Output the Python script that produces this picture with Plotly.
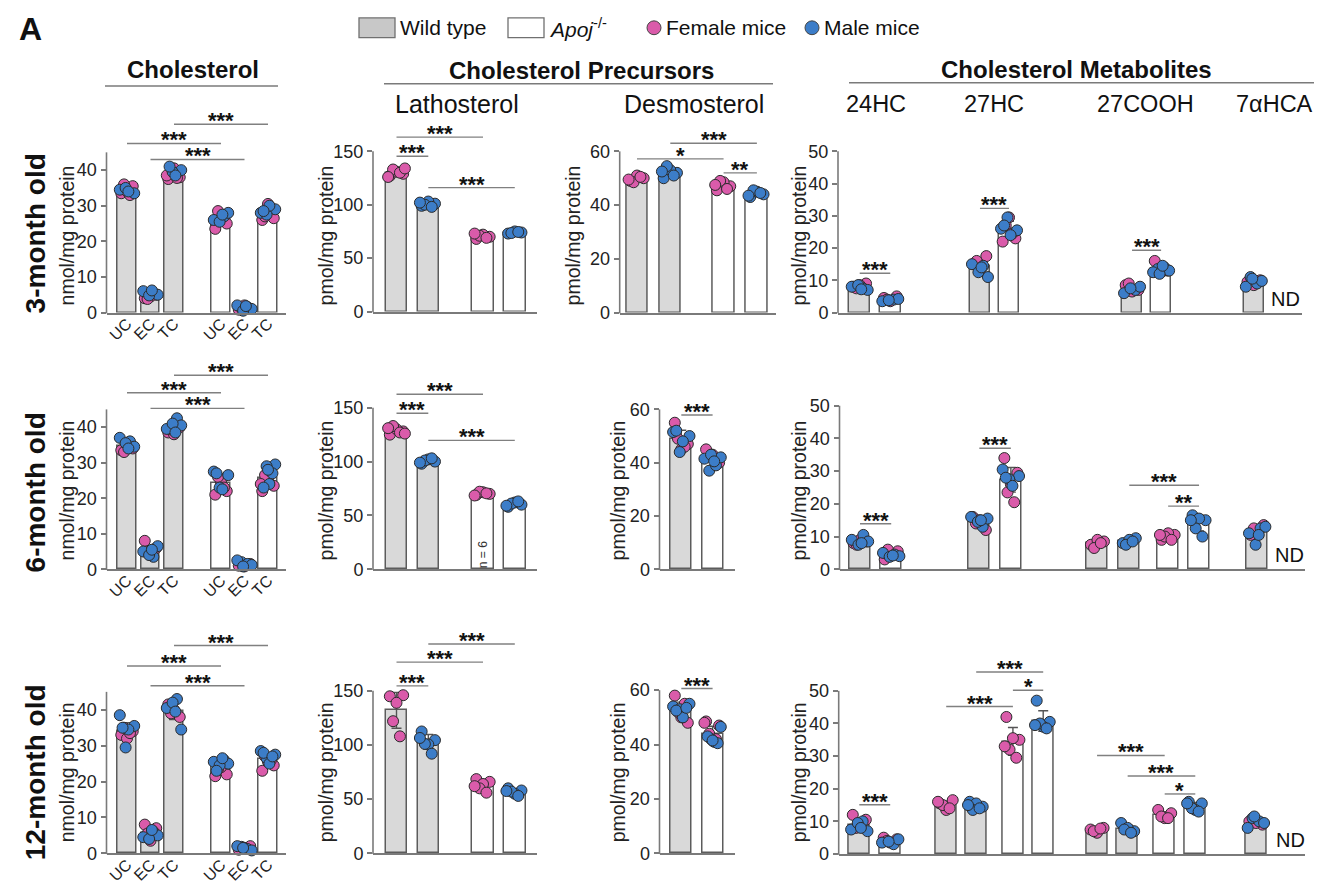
import numpy as np
import plotly.graph_objects as go

W, H = 1322, 882
FONT = "Liberation Sans, Arial, sans-serif"
FEMALE_C = "#DA5BAA"
MALE_C = "#3C7DC8"
WT_C = "#D9D9D9"
KO_C = "#FFFFFF"
AXIS_C = "#7a7a7a"

# ---------------- data ----------------
chol_labels = ["UC", "EC", "TC", "UC", "EC", "TC"]
chol_genotype = ["WT", "WT", "WT", "KO", "KO", "KO"]
sex_genotype = ["WT", "WT", "KO", "KO"]
desmo_mixed_genotype = ["WT", "KO"]

# 3-month
chol_3m_female = [[33.5, 35.5, 34, 36, 33], [4, 5, 4.5, 3.8], [37.5, 38, 40.5, 39, 37.8, 38.5],
                  [23.5, 25, 27, 28.5], [0.8, 1, 2, 1.2], [26, 26.5, 30.5, 27, 29.5]]
chol_3m_male = [[34.5, 33.5, 35, 34], [5.5, 6, 5, 4.8, 6.2], [40, 39.5, 38.5, 41],
                [27, 26, 28, 25.5, 27.5], [1.5, 2, 1, 0.5, 1.8], [28, 29, 27.5, 30, 28.5]]
latho_3m_female = [[127, 129, 131, 133, 130, 126, 134], [], [68, 70, 72, 71, 69, 73], []]
latho_3m_male = [[], [99, 101, 103, 100, 98, 102], [], [73, 74, 75, 73.5, 74.5]]
desmo_3m_female = [[49, 50, 51, 48.5, 50.5, 49.5], [], [45.5, 47, 48.5, 49, 46, 47.5], []]
desmo_3m_male = [[], [50, 52, 53, 54.5, 51, 52.5], [], [43, 44, 45, 45.5, 44.5, 43.5]]
metab_3m_genotype = ["WT", "KO", "WT", "KO", "WT", "KO", "WT"]
metab_3m_female = [[8, 9, 8.5, 7.5], [4.5, 5, 3.5, 4], [15, 17.5, 13, 16], [22, 23, 29.5, 27, 24.5],
                   [8.5, 7, 6.5, 9], [16, 13, 12.5], [9.5, 10, 8.5]]
metab_3m_male = [[7.5, 8, 7, 8.5, 7.2], [4, 3.5, 4.2, 3.8], [14.5, 15, 11, 12.5, 14], [26, 25.5, 29.5, 24, 27],
                 [7, 6, 8, 7.5], [13.5, 14, 12.5, 13, 12, 14.5], [11, 9, 8, 9.8, 10.5]]

# 6-month
chol_6m_female = [[33.5, 34, 35, 33], [8, 6, 4.5, 5], [38.5, 40, 38, 39.5],
                  [21, 22, 24.5, 26, 23], [1, 1.5, 0.8], [22, 23.5, 25, 26.5, 27.5, 24]]
chol_6m_male = [[36, 37, 34.5, 35.5, 34], [3.5, 5, 6.5, 4, 5.5], [42.5, 39.5, 40.5, 41, 38.5],
                [27.5, 26.5, 23, 22.5, 27], [2, 1.5, 2.5, 1.2, 0.8], [29.5, 29, 24, 23, 27, 28]]
latho_6m_female = [[125, 128, 130, 133, 127, 131, 126], [], [69, 70, 71.5, 72, 70.5, 68.5], []]
latho_6m_male = [[], [98, 100, 102, 101, 103, 99], [], [58, 60, 62, 61, 63, 59]]
desmo_6m_female = [[55, 47, 45, 49, 46], [45, 40, 43]]
desmo_6m_male = [[51.5, 50, 44, 48, 52], [37, 39, 41.5, 42, 43, 40.5]]
metab_6m_genotype = ["WT", "KO", "WT", "KO", "WT", "WT", "KO", "KO", "WT"]
metab_6m_female = [[8, 8.5, 9, 7.5], [3, 5.5, 4.5, 6], [16, 12, 15, 14], [34, 29.5, 26, 23.5, 20.5],
                   [7.5, 8.5, 9, 6.5, 8], [], [9, 10.5, 11, 10, 9, 10.5], [], [10.5, 13.5, 11.5, 12.5]]
metab_6m_male = [[10.5, 9, 8.5, 7.5, 8], [4.5, 5, 4, 3.8, 4.2], [13, 16, 15.5, 14.5, 15], [30.5, 28.5, 27.5, 25.5, 28],
                 [], [8, 9.5, 9, 7.5, 8.5], [], [16.5, 15, 15.5, 12.5, 10, 15], [12.5, 11, 13, 7.5, 10.5]]

# 12-month
chol_12m_female = [[33, 34, 32, 35, 33.5], [8, 7, 3.5, 5.5, 6], [41.5, 38, 40, 39],
                   [21.5, 22, 24, 23.5], [1, 2, 1.5], [23, 24.5, 25.5, 27, 26]]
chol_12m_male = [[38.5, 35.5, 29.5, 34.5, 35], [4.5, 5, 4, 6.5], [43, 40.5, 34.5, 42, 39.5],
                 [26, 25.5, 25, 24.5, 26.5, 23], [1.8, 1.2, 2, 0.8, 1.5], [28.5, 27.5, 26.5, 25, 28, 27]]
latho_12m_female = [[145, 146, 139, 122, 108], [], [68.5, 66, 64, 60, 56, 62], []]
latho_12m_male = [[], [112.5, 104.5, 100.5, 101, 92, 106.5], [], [60, 58, 55, 57, 53, 57.5]]
desmo_12m_female = [[58, 48, 50, 52, 55], [48.5, 47, 41.5, 44, 42, 48]]
desmo_12m_male = [[54, 55, 53, 50, 52.5, 53.5], [46.5, 42, 41, 43, 40.5, 41.5]]
metab_12m_genotype = ["WT", "KO", "WT", "WT", "KO", "KO", "WT", "WT", "KO", "KO", "WT"]
metab_12m_female = [[12, 10.5, 9, 8], [5, 4.5, 3.5, 4], [15.5, 16.5, 13.5, 15, 14, 16], [],
                    [42, 35, 35.5, 32, 29.5, 33], [], [7.5, 8, 6.5, 7, 7.8], [],
                    [13.5, 12.5, 11, 11.5, 11], [], [10, 9, 9.5]]
metab_12m_male = [[10, 7.5, 7, 9.5, 8], [3, 3.5, 4.5, 3.8], [], [16, 14.5, 15.5, 13.5, 14, 15],
                  [], [47, 40.5, 39, 40, 38.5, 39.5], [], [9.5, 7, 8, 7.5, 6.5],
                  [], [16, 15.5, 13.5, 14, 13, 15.5], [11, 10, 8, 9.5, 11.5]]

# significance brackets: (bar i, bar j, y value, label)
chol_3m_sig = [(0, 3, 47.5, "***"), (1, 4, 43, "***"), (2, 5, 52.9, "***")]
chol_6m_sig = [(0, 3, 49.7, "***"), (1, 4, 45.3, "***"), (2, 5, 54.6, "***")]
chol_12m_sig = [(0, 3, 52.2, "***"), (1, 4, 46.7, "***"), (2, 5, 57.9, "***")]
latho_3m_sig = [(0, 1, 145.4, "***"), (0, 2, 163.3, "***"), (1, 3, 116, "***")]
latho_6m_sig = [(0, 1, 144.8, "***"), (0, 2, 162.5, "***"), (1, 3, 119.7, "***")]
latho_12m_sig = [(0, 1, 154.6, "***"), (0, 2, 176.5, "***"), (1, 3, 193.3, "***")]
desmo_3m_sig = [(0, 2, 57.2, "*"), (1, 3, 63, "***"), (2, 3, 52, "**")]
desmo_6m_sig = [(0, 1, 57.9, "***")]
desmo_12m_sig = [(0, 1, 60.6, "***")]
metab_3m_sig = [(0, 1, 12.2, "***"), (2, 3, 32.3, "***"), (4, 5, 19.3, "***")]
metab_6m_sig = [(0, 1, 13.9, "***"), (2, 3, 37, "***"), (5, 7, 25.7, "***"), (6, 7, 19.3, "**")]
metab_12m_sig = [(0, 1, 15.1, "***"), (2, 4, 45.2, "***"), (3, 5, 55.8, "***"), (4, 5, 50.2, "*"),
                 (6, 8, 30.2, "***"), (7, 9, 23.9, "***"), (8, 9, 18.4, "*")]

chol_ticks = [0, 10, 20, 30, 40]
latho_ticks = [0, 50, 100, 150]
desmo_ticks = [0, 20, 40, 60]
metab_ticks = [0, 10, 20, 30, 40, 50]

# ---------------- layout geometry (pixels) ----------------
chol_pos = [0, 1, 2, 4, 5, 6]
latho_pos = [0, 1, 2.72, 3.72]
desmo4_pos = [0, 1, 2.6, 3.6]
desmo2_pos = [0, 1]
metab_3m_pos = [0, 1, 3.93, 4.88, 8.9, 9.85, 12.88]
metab_6m_pos = [0, 1.02, 3.9, 4.93, 7.76, 8.8, 10.07, 11.08, 12.98]
metab_12m_pos = [0, 1.01, 2.84, 3.82, 5.02, 6.01, 7.77, 8.77, 9.98, 10.98, 12.96]

# (x of slot 0, px per slot, left px, right px, bar width px)
chol_geom = (119, 23.5, 98.5, 278, 18.5)
latho_geom = (388.5, 31.8, 365, 529, 21.5)
desmo4_geom = (629, 33.3, 611.7, 768, 21.5)
desmo2_geom = (673.3, 31.3, 651.5, 726.5, 21)
metab_geom_3 = (851.7, 30.6, 830, 1294, 20.5)
metab_geom_6 = (852, 30.6, 831.5, 1296.5, 21)
metab_geom_12 = (851.3, 30.6, 830.7, 1297, 21)

fig = go.Figure()
lay = {}
shapes = []
annotations = []


def px(x):
    return x / W


def py(y):
    return 1 - y / H


JIT = [-0.62, 0.62, 0.0, -0.32, 0.32, -0.78, 0.78, -0.15, 0.15, -0.48, 0.48, 0.0]


def add_panel(n, female, male, genotype, pos, geom, ygeom, tickvals, sigs,
              xticktext=None):
    x0, slot, xl, xr, bwpx = geom
    y0, ytop_px, ytop_val, ydom_top = ygeom
    ppu = (y0 - ytop_px) / ytop_val
    xa = "x" if n == 1 else f"x{n}"
    ya = "y" if n == 1 else f"y{n}"
    allv = [f + m for f, m in zip(female, male)]
    means = [float(np.mean(v)) for v in allv]
    sds = [float(np.std(v, ddof=1)) for v in allv]
    colors = [WT_C if g == "WT" else KO_C for g in genotype]
    bw = bwpx / slot
    fig.add_trace(go.Bar(
        x=pos, y=means, width=bw, xaxis=xa, yaxis=ya, showlegend=False,
        marker=dict(color=colors, line=dict(color="#5c5c5c", width=1.5)),
        error_y=dict(type="data", array=sds, color="#555555", thickness=1.4, width=5),
        cliponaxis=False, hoverinfo="skip"))
    fx, fy, mx, my = [], [], [], []
    for k, (f, m) in enumerate(zip(female, male)):
        j = 0
        for v in f:
            fx.append(pos[k] + JIT[j % len(JIT)] * bw / 2)
            fy.append(v)
            j += 1
        for v in m:
            mx.append(pos[k] + JIT[j % len(JIT)] * bw / 2)
            my.append(v)
            j += 1
    for xs, ys, c in ((fx, fy, FEMALE_C), (mx, my, MALE_C)):
        fig.add_trace(go.Scatter(
            x=xs, y=ys, mode="markers", xaxis=xa, yaxis=ya, showlegend=False,
            cliponaxis=False, hoverinfo="skip",
            marker=dict(size=11, color=c, line=dict(color="#2b2b2b", width=1))))
    xkey = "xaxis" if n == 1 else f"xaxis{n}"
    ykey = "yaxis" if n == 1 else f"yaxis{n}"
    xd = dict(domain=[px(xl), px(xr)], range=[(xl - x0) / slot, (xr - x0) / slot],
              showline=True, linecolor=AXIS_C, linewidth=1.6, showgrid=False,
              zeroline=False, ticks="", anchor=ya, fixedrange=True)
    if xticktext:
        xd.update(tickvals=pos, ticktext=xticktext, tickangle=-45, showticklabels=True,
                  ticklabelstandoff=-6,
                  tickfont=dict(size=16, color="#222", family=FONT))
    else:
        xd.update(showticklabels=False)
    lay[xkey] = xd
    lay[ykey] = dict(domain=[py(y0), py(ydom_top)], range=[0, (y0 - ydom_top) / ppu],
                     showline=False, showgrid=False, zeroline=False, ticks="outside",
                     ticklen=5, tickwidth=1.5, tickcolor=AXIS_C, tickvals=tickvals,
                     tickfont=dict(size=18, color="#222", family=FONT), anchor=xa,
                     fixedrange=True)
    # y axis line (stops at top tick)
    shapes.append(dict(type="line", xref="paper", yref="paper", x0=px(xl), x1=px(xl),
                       y0=py(y0 + 0.8), y1=py(ytop_px), line=dict(color=AXIS_C, width=1.6)))
    for i, j, yv, lab in sigs:
        shapes.append(dict(type="line", xref=xa, yref=ya, x0=pos[i], x1=pos[j], y0=yv, y1=yv,
                           line=dict(color="#808080", width=1.4)))
        annotations.append(dict(xref=xa, yref=ya, x=(pos[i] + pos[j]) / 2, y=yv, text=f"<b>{lab}</b>",
                                showarrow=False, yanchor="bottom", yshift=-11,
                                font=dict(size=22, color="#111", family=FONT)))
    return xa, ya


# rows: y px of zero, y px of top value, top value, domain top px
r1 = (308, 308 - 162, 45), (307, 145, 150), (308, 145, 60), (308, 145, 50)
r2 = (567.7, 406, 45), (567.7, 404.3, 150), (567.7, 406, 60), (567.7, 402.3, 50)
r3 = (855, 691.7, 45), (855, 690.7, 150), (855, 690, 60), (855.7, 690.7, 50)
tops = [88, 352, 625]

add_panel(1, chol_3m_female, chol_3m_male, chol_genotype, chol_pos, chol_geom, r1[0] + (tops[0],),
          chol_ticks, chol_3m_sig, chol_labels)
add_panel(2, latho_3m_female, latho_3m_male, sex_genotype, latho_pos, latho_geom, r1[1] + (tops[0],),
          latho_ticks, latho_3m_sig)
add_panel(3, desmo_3m_female, desmo_3m_male, sex_genotype, desmo4_pos, desmo4_geom, r1[2] + (tops[0],),
          desmo_ticks, desmo_3m_sig)
m3 = add_panel(4, metab_3m_female, metab_3m_male, metab_3m_genotype, metab_3m_pos, metab_geom_3,
               r1[3] + (tops[0],), metab_ticks, metab_3m_sig)

add_panel(5, chol_6m_female, chol_6m_male, chol_genotype, chol_pos, chol_geom, r2[0] + (tops[1],),
          chol_ticks, chol_6m_sig, chol_labels)
l6 = add_panel(6, latho_6m_female, latho_6m_male, sex_genotype, latho_pos, latho_geom, r2[1] + (tops[1],),
               latho_ticks, latho_6m_sig)
add_panel(7, desmo_6m_female, desmo_6m_male, desmo_mixed_genotype, desmo2_pos, desmo2_geom,
          r2[2] + (tops[1],), desmo_ticks, desmo_6m_sig)
m6 = add_panel(8, metab_6m_female, metab_6m_male, metab_6m_genotype, metab_6m_pos, metab_geom_6,
               r2[3] + (tops[1],), metab_ticks, metab_6m_sig)

add_panel(9, chol_12m_female, chol_12m_male, chol_genotype, chol_pos, chol_geom, r3[0] + (tops[2],),
          chol_ticks, chol_12m_sig, chol_labels)
add_panel(10, latho_12m_female, latho_12m_male, sex_genotype, latho_pos, latho_geom, r3[1] + (tops[2],),
          latho_ticks, latho_12m_sig)
add_panel(11, desmo_12m_female, desmo_12m_male, desmo_mixed_genotype, desmo2_pos, desmo2_geom,
          r3[2] + (tops[2],), desmo_ticks, desmo_12m_sig)
m12 = add_panel(12, metab_12m_female, metab_12m_male, metab_12m_genotype, metab_12m_pos, metab_geom_12,
                r3[3] + (tops[2],), metab_ticks, metab_12m_sig)

# ND labels
for (xa, ya), xpos in ((m3, 13.93), (m6, 14.05), (m12, 14.1)):
    annotations.append(dict(xref=xa, yref=ya, x=xpos, y=0, text="ND", showarrow=False,
                            yanchor="bottom", yshift=1, font=dict(size=20, color="#111", family=FONT)))
# n = 6
annotations.append(dict(xref=l6[0], yref=l6[1], x=latho_pos[2], y=14, text="n = 6", showarrow=False,
                        textangle=-90, font=dict(size=12, color="#333", family=FONT)))


def text(x, y, t, size, bold=False, angle=0, anchor="center", color="#111"):
    annotations.append(dict(xref="paper", yref="paper", x=px(x), y=py(y), text=(f"<b>{t}</b>" if bold else t),
                            showarrow=False, xanchor=anchor, yanchor="middle", textangle=angle,
                            font=dict(size=size, color=color, family=FONT)))


def hline(x0, x1, y):
    shapes.append(dict(type="line", xref="paper", yref="paper", x0=px(x0), x1=px(x1), y0=py(y), y1=py(y),
                       line=dict(color="#7a7a7a", width=1.5)))


text(22, 21, "A", 32, bold=True)
# legend
shapes.append(dict(type="rect", xref="paper", yref="paper", x0=px(351), x1=px(387), y0=py(10), y1=py(30),
                   fillcolor="#C8C8C8", line=dict(color="#707070", width=1.3)))
text(390, 20, "Wild type", 21, anchor="left")
shapes.append(dict(type="rect", xref="paper", yref="paper", x0=px(500), x1=px(536), y0=py(10), y1=py(30),
                   fillcolor="#FFFFFF", line=dict(color="#707070", width=1.3)))
text(539, 20, "<i>Apoj</i><sup>-/-</sup>", 21, anchor="left")
for cx, col, lab in ((646, FEMALE_C, "Female mice"), (804, MALE_C, "Male mice")):
    shapes.append(dict(type="circle", xref="paper", yref="paper", x0=px(cx - 7), x1=px(cx + 7),
                       y0=py(27), y1=py(13), fillcolor=col, line=dict(color="#444", width=1)))
    text(cx + 10, 20, lab, 21, anchor="left")

# headers
text(185, 62, "Cholesterol", 24, bold=True)
hline(97, 270, 79)
text(573, 63, "Cholesterol Precursors", 24, bold=True)
hline(376, 765, 76.5)
text(449, 97, "Lathosterol", 25)
text(686, 97, "Desmosterol", 25)
text(1068, 62, "Cholesterol Metabolites", 24, bold=True)
hline(841, 1308, 75.5)
for cx, lab in ((868, "24HC"), (986, "27HC"), (1137, "27COOH"), (1266, "7αHCA")):
    text(cx, 97, lab, 23.5)

# row labels
for cy, lab in ((228, "3-month old"), (490, "6-month old"), (773, "12-month old")):
    text(27, cy, lab, 28, bold=True, angle=-90)

# y axis titles
for cy, xs in ((230, (59, 318, 565, 791)), (488, (59, 318, 610, 791)), (773, (59, 318, 610, 791))):
    text(xs[0], cy, "nmol/mg protein", 19.5, angle=-90, color="#222")
    for x in xs[1:]:
        text(x, cy, "pmol/mg protein", 19.5, angle=-90, color="#222")

fig.update_layout(width=W, height=H, margin=dict(l=0, r=0, t=0, b=0),
                  paper_bgcolor="white", plot_bgcolor="rgba(0,0,0,0)", bargap=0,
                  shapes=shapes, annotations=annotations, showlegend=False,
                  font=dict(family=FONT), **lay)
fig.write_html("out.html")
